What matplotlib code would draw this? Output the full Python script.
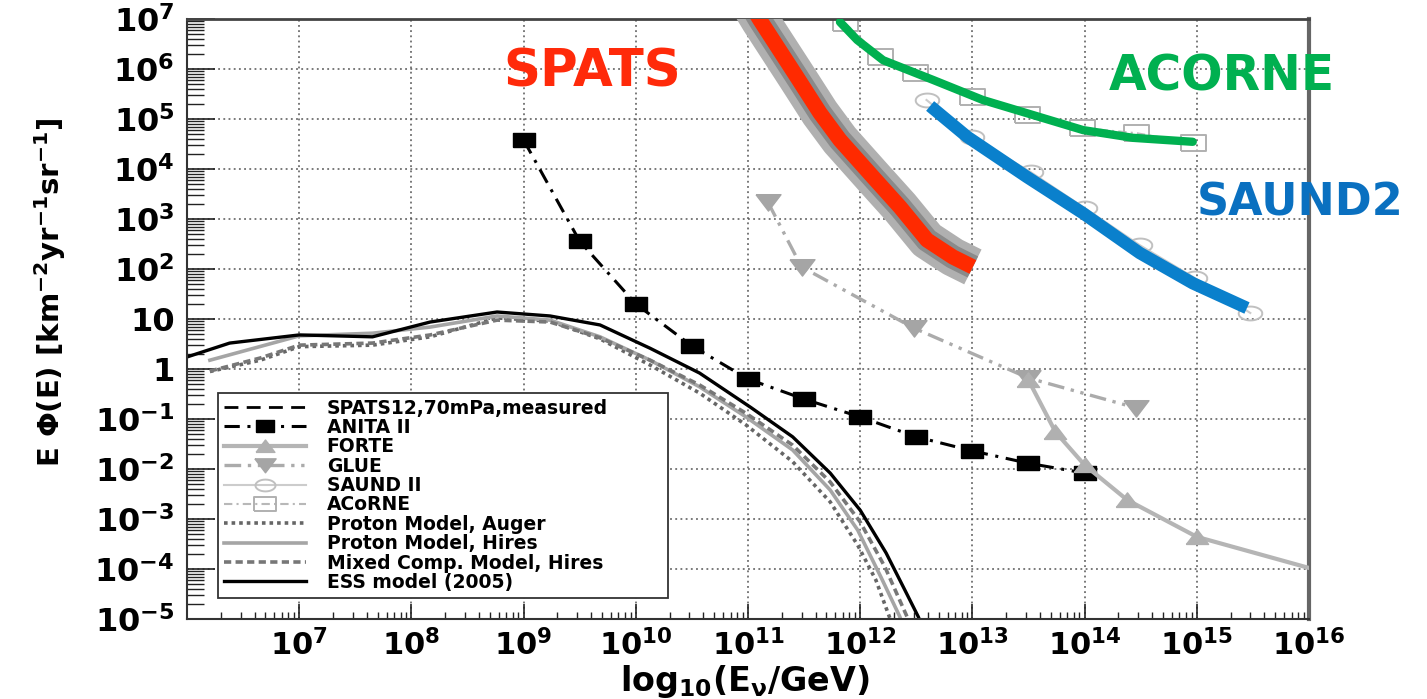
import numpy as np
import matplotlib
matplotlib.use('Agg')
from matplotlib import pyplot as plt

plt.rcParams['font.family'] = ['DejaVu Sans']
plt.rcParams['font.weight'] = 'bold'
plt.rcParams['mathtext.fontset'] = 'custom'
plt.rcParams['mathtext.rm'] = 'DejaVu Sans:bold'
plt.rcParams['mathtext.it'] = 'DejaVu Sans:bold'
plt.rcParams['mathtext.bf'] = 'DejaVu Sans:bold'
plt.rcParams['mathtext.sf'] = 'DejaVu Sans:bold'

# --- flux limits / models, E [GeV] vs E*Phi(E) [km^-2 yr^-1 sr^-1] ---
anita_E = [1e9, 3.16e9, 1e10, 3.16e10, 1e11, 3.16e11, 1e12, 3.16e12, 1e13, 3.16e13, 1e14]
anita_F = [3.8e4, 360, 20, 2.9, 0.63, 0.25, 0.11, 0.044, 0.023, 0.013, 0.0083]

forte_E = [3.16e13, 5.5e13, 1e14, 2.4e14, 1e15, 1e16]
forte_F = [0.6, 0.055, 0.012, 2.4e-3, 4.4e-4, 1.05e-4]

glue_E = [1.5e11, 3.0e11, 3.0e12, 3.16e13, 2.9e14]
glue_F = [2200, 110, 6.6, 0.66, 0.166]

saund_E = [3.9e12, 9.9e12, 3.3e13, 1.0e14, 3.1e14, 9.6e14, 3.0e15]
saund_F = [2.4e5, 4.4e4, 8.7e3, 1.66e3, 300, 66, 13.2]

acorne_E = [7.3e11, 1.5e12, 3.1e12, 9.9e12, 3.07e13, 9.5e13, 2.9e14, 9.2e14]
acorne_F = [8.3e6, 1.74e6, 8.3e5, 2.75e5, 1.2e5, 6.6e4, 5.2e4, 3.3e4]

# highlighted curves
spats_E = [9.4e10, 1.28e11, 2.73e11, 4.38e11, 6.6e11, 1.3e12, 2.26e12, 3.94e12, 6.7e12, 1.01e13]
spats_F = [3.0e7, 9.5e6, 6.9e5, 1.32e5, 3.8e4, 6.9e3, 1.74e3, 380, 174, 110]

acorne_hl_E = [6.6e11, 9.4e11, 1.6e12, 4.5e12, 1.24e13, 3.47e13, 9.7e13, 2.7e14, 9.2e14]
acorne_hl_F = [8.7e6, 3.8e6, 1.5e6, 6.0e5, 2.4e5, 1.2e5, 6.0e4, 4.2e4, 3.5e4]

saund_hl_E = [4.2e12, 9.0e12, 3.07e13, 9.7e13, 3.1e14, 9.2e14, 2.8e15]
saund_hl_F = [1.82e5, 4.4e4, 6.9e3, 1.3e3, 209, 52, 16.6]

# cosmogenic models
ess_E = [1e6, 2.4e6, 1e7, 4.5e7, 1.47e8, 5.8e8, 1.72e9, 4.8e9, 1.34e10, 3.7e10,
         1.06e11, 2.5e11, 5.4e11, 1.0e12, 1.7e12, 2.5e12, 3.3e12, 4.0e12]
ess_F = [1.74, 3.3, 4.8, 4.4, 8.7, 13.8, 11.5, 7.6, 2.6, 0.83,
         0.17, 0.044, 8.3e-3, 1.5e-3, 2.1e-4, 3.8e-5, 1.1e-5, 3.8e-6]

hires_E = [1.6e6, 1e7, 4.5e7, 1.47e8, 5.8e8, 1.72e9, 4.8e9, 1.34e10, 3.7e10,
           9.6e10, 2.5e11, 5.4e11, 9.5e11, 1.53e12, 2.26e12, 2.6e12]
hires_F = [1.5, 4.6, 5.2, 6.9, 11.5, 9.5, 4.4, 1.5, 0.44,
           0.11, 0.024, 3.8e-3, 6.0e-4, 6.9e-5, 1.1e-5, 3.8e-6]

mixed_E = [1.6e6, 4.5e6, 1e7, 4.5e7, 1.47e8, 5.8e8, 1.72e9, 4.8e9, 1.34e10, 3.7e10,
           9.6e10, 2.5e11, 5.4e11, 1.0e12, 1.66e12, 2.67e12, 2.95e12]
mixed_F = [0.91, 1.66, 3.0, 3.3, 4.8, 9.5, 8.7, 4.2, 1.5, 0.48,
           0.13, 0.030, 5.5e-3, 8.7e-4, 1.1e-4, 1e-5, 3.8e-6]

auger_E = [1.6e6, 4.5e6, 1e7, 4.5e7, 1.47e8, 5.8e8, 1.72e9, 4.8e9, 1.34e10, 3.7e10,
           9.6e10, 2.5e11, 5.4e11, 9.5e11, 1.38e12, 1.85e12, 2.04e12]
auger_F = [0.89, 1.5, 2.8, 3.0, 4.4, 10.5, 9.1, 4.0, 1.2, 0.33,
           0.076, 0.014, 2.2e-3, 3.0e-4, 6.0e-5, 1e-5, 3.8e-6]

xticks = [1e7, 1e8, 1e9, 1e10, 1e11, 1e12, 1e13, 1e14, 1e15, 1e16]
xtick_labels = ['$10^{7}$', '$10^{8}$', '$10^{9}$', '$10^{10}$', '$10^{11}$',
                '$10^{12}$', '$10^{13}$', '$10^{14}$', '$10^{15}$', '$10^{16}$']
yticks = [1e-5, 1e-4, 1e-3, 1e-2, 1e-1, 1, 10, 1e2, 1e3, 1e4, 1e5, 1e6, 1e7]
ytick_labels = ['$10^{-5}$', '$10^{-4}$', '$10^{-3}$', '$10^{-2}$', '$10^{-1}$', '1', '10',
                '$10^{2}$', '$10^{3}$', '$10^{4}$', '$10^{5}$', '$10^{6}$', '$10^{7}$']

# wide markers (the plot is stretched horizontally)
m_sq = [(-1.6, -1), (1.6, -1), (1.6, 1), (-1.6, 1), (-1.6, -1)]
m_up = [(-1.6, -1), (1.6, -1), (0, 1.1), (-1.6, -1)]
m_dn = [(-1.6, 1), (1.6, 1), (0, -1.1), (-1.6, 1)]
tt = np.linspace(0, 2 * np.pi, 41)
m_ell = list(zip(1.7 * np.cos(tt), np.sin(tt)))

fig = plt.figure(figsize=(14.27, 6.99), dpi=100, facecolor='w')
ax = fig.add_axes([187 / 1427, 1 - 619 / 699, 1122 / 1427, 600 / 699])
ax.set_xscale('log')
ax.set_yscale('log')
ax.set_xlim(1e6, 1e16)
ax.set_ylim(1e-5, 1e7)

ax.grid(True, which='major', ls=(0, (1.2, 2.2)), color='#555555', lw=1.1)

# models
l_auger, = ax.plot(auger_E, auger_F, color='#666666', lw=2.6, ls=(0, (1, 1.1)), label='Proton Model, Auger')
l_hires, = ax.plot(hires_E, hires_F, color='#a5a5a5', lw=2.6, label='Proton Model, Hires')
l_mixed, = ax.plot(mixed_E, mixed_F, color='#777777', lw=2.6, ls=(0, (2, 1.2)), label='Mixed Comp. Model, Hires')
l_ess, = ax.plot(ess_E, ess_F, color='black', lw=2.4, label='ESS model (2005)')

# experiments
l_spats, = ax.plot([], [], color='black', lw=2, ls=(0, (5, 3)), label='SPATS12,70mPa,measured')
l_anita, = ax.plot(anita_E, anita_F, color='black', lw=2.2, ls=(0, (5, 2.5, 1, 2.5)),
                   marker=m_sq, ms=16, mfc='black', mec='black', label='ANITA II', zorder=4)
l_forte, = ax.plot(forte_E, forte_F, color='#b5b5b5', lw=3, marker=m_up, ms=16,
                   mfc='#b0b0b0', mec='#b0b0b0', markevery=[0, 1, 2, 3, 4], label='FORTE', zorder=5)
l_glue, = ax.plot(glue_E, glue_F, color='#ababab', lw=2.4, ls=(0, (5, 2, 1, 2, 1, 2)),
                  marker=m_dn, ms=18, mfc='#a5a5a5', mec='#a5a5a5', label='GLUE')
l_saund, = ax.plot(saund_E, saund_F, color='#cccccc', lw=1.5, marker=m_ell, ms=17,
                   mfc='none', mec='#c0c0c0', mew=1.4, label='SAUND II')
l_acorne, = ax.plot(acorne_E, acorne_F, color='#b8b8b8', lw=1.5, ls=(0, (4, 2, 1, 2)),
                    marker=m_sq, ms=18, mfc='none', mec='#b0b0b0', mew=1.4, label='ACoRNE')

# highlighted SPATS band and sensitivity curves
ax.plot(spats_E, spats_F, color='#b0b0b0', lw=28, solid_capstyle='butt', zorder=6)
ax.plot(spats_E, spats_F, color='#8a8a8a', lw=17, solid_capstyle='butt', zorder=6)
ax.plot(spats_E, spats_F, color='#ff2a00', lw=11, solid_capstyle='butt', zorder=7)
ax.plot(acorne_hl_E, acorne_hl_F, color='#00b050', lw=6, solid_capstyle='round', zorder=7)
ax.plot(saund_hl_E, saund_hl_F, color='#0a80cc', lw=9, solid_capstyle='butt', zorder=7)

ax.text(4.1e9, 8.7e5, 'SPATS', color='#ff2a0a', fontsize=37, fontweight='bold',
        ha='center', va='center', zorder=8)
ax.text(1.66e15, 7.2e5, 'ACORNE', color='#00b050', fontsize=35, fontweight='bold',
        ha='center', va='center', zorder=8, clip_on=False)
ax.text(8.3e15, 2.1e3, 'SAUND2', color='#0a70c0', fontsize=32, fontweight='bold',
        ha='center', va='center', zorder=8, clip_on=False)

ax.set_xticks(xticks)
ax.set_xticklabels(xtick_labels)
ax.set_yticks(yticks)
ax.set_yticklabels(ytick_labels)
ax.xaxis.set_minor_locator(matplotlib.ticker.LogLocator(base=10, subs=np.arange(2, 10), numticks=20))
ax.yaxis.set_minor_locator(matplotlib.ticker.LogLocator(base=10, subs=np.arange(2, 10), numticks=30))
ax.xaxis.set_minor_formatter(matplotlib.ticker.NullFormatter())
ax.yaxis.set_minor_formatter(matplotlib.ticker.NullFormatter())
ax.tick_params(axis='both', which='both', direction='in', top=False, right=False, colors='#222222')
ax.tick_params(axis='x', which='major', length=11, width=1.2, labelsize=22, pad=7)
ax.tick_params(axis='x', which='minor', length=5, width=1.0)
ax.tick_params(axis='y', which='major', length=20, width=1.2, labelsize=23, pad=9)
ax.tick_params(axis='y', which='minor', length=12, width=1.0)
for lab in ax.get_xticklabels() + ax.get_yticklabels():
    lab.set_color('black')

for side in ['left', 'bottom']:
    ax.spines[side].set_linewidth(1.5)
    ax.spines[side].set_color('#333333')
ax.spines['top'].set_linewidth(2)
ax.spines['top'].set_color('#444444')
ax.spines['right'].set_linewidth(3)
ax.spines['right'].set_color('#666666')

ax.set_xlabel(r'$\mathrm{log_{10}(E_{\nu}/GeV)}$', fontsize=24)
ax.xaxis.set_label_coords(0.497, -0.073)
ax.set_ylabel(r'$\mathrm{E\ \Phi(E)\ [km^{-2}yr^{-1}sr^{-1}]}$', fontsize=21)
ax.yaxis.set_label_coords(-0.106, 0.545)

handles = [l_spats, l_anita, l_forte, l_glue, l_saund, l_acorne, l_auger, l_hires, l_mixed, l_ess]
leg = ax.legend(handles=handles, loc='upper left', bbox_to_anchor=(0.0276, 0.02, 0.401, 0.3567),
                mode='expand', borderaxespad=0, numpoints=1, handlelength=4.4, handletextpad=1.1,
                labelspacing=0.02, borderpad=0.3, prop={'weight': 'bold', 'size': 13.5},
                fancybox=False, framealpha=1, edgecolor='#333333', markerscale=0.85)
leg.get_frame().set_linewidth(1.3)
leg.set_zorder(10)

fig.savefig('out.png', dpi=100, facecolor='w')
